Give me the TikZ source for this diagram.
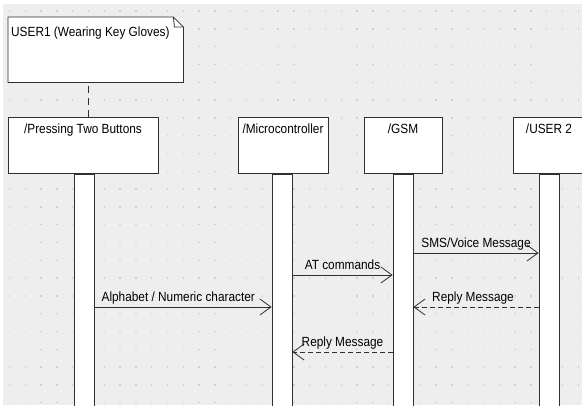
\documentclass[tikz,border=0pt]{standalone}
\usepackage{fontspec}
\setmainfont{Liberation Sans}[FakeStretch=0.89]
\usetikzlibrary{arrows.meta, positioning, shadows}
\definecolor{bggray}{HTML}{EEEEEE}
\definecolor{dotgray}{HTML}{D0D0D0}
\definecolor{linegray}{HTML}{303030}
\tikzstyle{headbox} = [rectangle, draw=linegray, line width=0.8pt, fill=white, inner sep=0pt, text height=16pt, text depth=40pt, anchor=north, general shadow={xshift=1.5pt, yshift=-1.5pt, fill=black!40}]
\tikzstyle{lifebar} = [rectangle, draw=linegray, line width=0.8pt, fill=white, minimum width=20pt, minimum height=240pt, inner sep=0pt, general shadow={xshift=1.5pt, yshift=-1.5pt, fill=black!40}]
\tikzstyle{notebox} = [anchor=north west, minimum width=175pt, minimum height=65pt, inner sep=0pt]
\tikzstyle{msg} = [draw=linegray, line width=0.8pt, -{Straight Barb[length=11pt, width=16pt]}]
\tikzstyle{reply} = [msg, dash pattern=on 5pt off 3pt]
\tikzstyle{msgtext} = [midway, anchor=base, yshift=6pt, inner sep=0pt, text=black]

\begin{document}
\begin{tikzpicture}[x=1pt, y=-1pt, font=\fontsize{13.3pt}{15pt}\selectfont]
		\useasboundingbox (0,0) rectangle (582,405);
		\clip (0,0) rectangle (582,405);
		\fill[white] (0,0) rectangle (582,405);
		\fill[bggray] (3,4) rectangle (582,405);
		\foreach \i in {0,...,36}
			\foreach \j in {0,...,22}
				\fill[dotgray] ({8.7+15.8*\i}, {10.3+17.8*\j}) rectangle ++(1.5,1.5);
		\node (user1) [notebox] at (8,17) {};
		\draw [linegray, line width=0.8pt, fill=white] (user1.south west) -- (user1.north west) -- ([xshift=-10pt]user1.north east) -- ([yshift=-10pt]user1.north east) -- (user1.south east) -- cycle;
		\draw [linegray, line width=0.8pt] ([xshift=-10pt]user1.north east) -- ([xshift=-9pt, yshift=-10pt]user1.north east) -- ([yshift=-10pt]user1.north east);
		\node (user1label) [anchor=base west, inner sep=0pt] at (11,36) {USER1 (Wearing Key Gloves)};
		\node (pressing) [headbox, minimum width=150pt] at (83,117) {/Pressing Two Buttons};
		\node (micro) [headbox, minimum width=90pt] at (283,117) {/Microcontroller};
		\node (gsm) [headbox, minimum width=78pt] at (403,117) {/GSM};
		\node (user2) [headbox, minimum width=72pt] at (549,117) {/USER 2};
		\node (pressbar) [lifebar, below=0pt of pressing, xshift=1.5pt] {};
		\node (microbar) [lifebar, below=0pt of micro, xshift=-1pt] {};
		\node (gsmbar) [lifebar, below=0pt of gsm] {};
		\node (user2bar) [lifebar, below=0pt of user2] {};
		\draw [linegray, line width=0.8pt, dash pattern=on 7pt off 5pt] ([xshift=5pt]pressing.north) -- ([xshift=5pt]pressing.north |- user1.south);
		\draw [msg] (gsmbar.east |- 0,253) -- node[msgtext] {SMS/Voice Message} (user2bar.west |- 0,253);
		\draw [msg] (microbar.east |- 0,275) -- node[msgtext] {AT commands} (gsmbar.west |- 0,275);
		\draw [reply] (user2bar.west |- 0,307) -- node[msgtext, xshift=-3pt] {Reply Message} (gsmbar.east |- 0,307);
		\draw [msg] (pressbar.east |- 0,307) -- node[msgtext, xshift=-5pt] {Alphabet / Numeric character} (microbar.west |- 0,307);
		\draw [reply] (gsmbar.west |- 0,352) -- node[msgtext] {Reply Message} (microbar.east |- 0,352);
	\end{tikzpicture}
\end{document}
